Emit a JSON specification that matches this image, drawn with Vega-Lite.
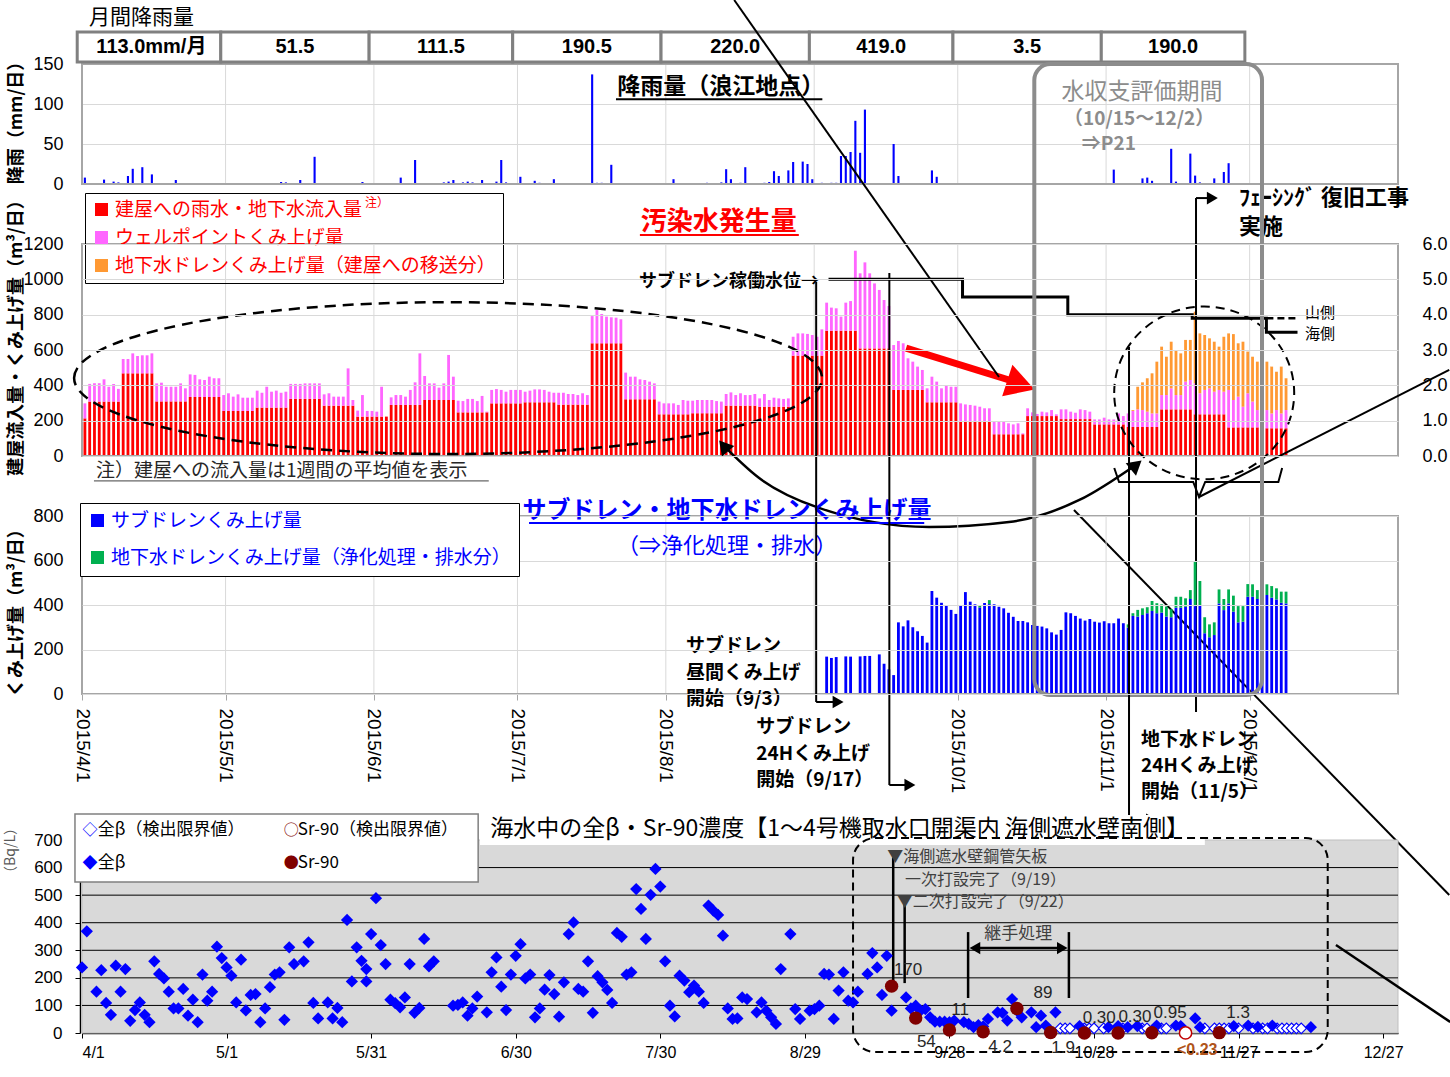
{
"$schema":"https://vega.github.io/schema/vega-lite/v6.json",
"width":1316,"height":1077,
"autosize":{"type":"none"},
"padding":{"left":82,"top":0,"right":52,"bottom":0},
"background":"white",
"config":{"view":{"stroke":null},"text":{"font":"Noto Sans CJK JP"},"axis":{"labelFont":"Liberation Sans","titleFont":"Noto Sans CJK JP"},"legend":{"labelFont":"Noto Sans CJK JP"}},
"datasets":{
"rain":[{"d":"2015-04-01","v":8},{"d":"2015-04-05","v":5.5},{"d":"2015-04-07","v":3},{"d":"2015-04-08","v":2},{"d":"2015-04-10","v":10},{"d":"2015-04-11","v":19},{"d":"2015-04-13","v":21},{"d":"2015-04-15","v":12},{"d":"2015-04-20","v":5},{"d":"2015-04-21","v":1},{"d":"2015-05-12","v":2.5},{"d":"2015-05-13","v":2},{"d":"2015-05-16","v":5},{"d":"2015-05-19","v":34},{"d":"2015-05-29","v":2.5},{"d":"2015-06-06","v":8},{"d":"2015-06-09","v":30},{"d":"2015-06-15","v":2},{"d":"2015-06-16","v":3},{"d":"2015-06-17","v":5},{"d":"2015-06-19","v":2},{"d":"2015-06-20","v":3},{"d":"2015-06-21","v":2},{"d":"2015-06-23","v":5},{"d":"2015-06-26","v":3},{"d":"2015-06-27","v":30},{"d":"2015-06-28","v":2},{"d":"2015-07-01","v":9},{"d":"2015-07-04","v":4},{"d":"2015-07-05","v":1.5},{"d":"2015-07-08","v":6},{"d":"2015-07-16","v":137},{"d":"2015-07-17","v":1.5},{"d":"2015-07-18","v":1.5},{"d":"2015-07-20","v":24},{"d":"2015-07-24","v":1},{"d":"2015-08-02","v":6},{"d":"2015-08-09","v":1.5},{"d":"2015-08-12","v":2},{"d":"2015-08-13","v":18.5},{"d":"2015-08-14","v":6},{"d":"2015-08-16","v":1.5},{"d":"2015-08-17","v":21},{"d":"2015-08-21","v":1.5},{"d":"2015-08-22","v":2.5},{"d":"2015-08-23","v":16},{"d":"2015-08-24","v":10},{"d":"2015-08-26","v":17},{"d":"2015-08-27","v":27.5},{"d":"2015-08-29","v":28},{"d":"2015-08-30","v":25},{"d":"2015-08-31","v":6},{"d":"2015-09-02","v":1.5},{"d":"2015-09-04","v":1.5},{"d":"2015-09-05","v":1.5},{"d":"2015-09-06","v":35},{"d":"2015-09-07","v":35},{"d":"2015-09-08","v":40},{"d":"2015-09-09","v":79},{"d":"2015-09-10","v":39},{"d":"2015-09-11","v":93},{"d":"2015-09-17","v":50},{"d":"2015-09-18","v":10},{"d":"2015-09-25","v":17},{"d":"2015-09-26","v":9},{"d":"2015-10-01","v":1},{"d":"2015-10-11","v":0.5},{"d":"2015-11-02","v":18},{"d":"2015-11-07","v":1},{"d":"2015-11-08","v":7},{"d":"2015-11-09","v":8},{"d":"2015-11-10","v":4},{"d":"2015-11-14","v":44},{"d":"2015-11-15","v":3},{"d":"2015-11-18","v":38},{"d":"2015-11-19","v":10.5},{"d":"2015-11-20","v":2},{"d":"2015-11-23","v":7},{"d":"2015-11-25","v":15},{"d":"2015-11-26","v":26},{"d":"2015-12-03","v":1},{"d":"2015-12-05","v":0.5}],
"water":[{"d":"2015-04-01","inflow":213,"pumped":85},{"d":"2015-04-02","inflow":308,"pumped":100},{"d":"2015-04-03","inflow":308,"pumped":104},{"d":"2015-04-04","inflow":308,"pumped":104},{"d":"2015-04-05","inflow":308,"pumped":126},{"d":"2015-04-06","inflow":308,"pumped":84},{"d":"2015-04-07","inflow":308,"pumped":100},{"d":"2015-04-08","inflow":308,"pumped":72},{"d":"2015-04-09","inflow":468,"pumped":81},{"d":"2015-04-10","inflow":468,"pumped":81},{"d":"2015-04-11","inflow":468,"pumped":113},{"d":"2015-04-12","inflow":468,"pumped":98},{"d":"2015-04-13","inflow":468,"pumped":102},{"d":"2015-04-14","inflow":468,"pumped":102},{"d":"2015-04-15","inflow":468,"pumped":113},{"d":"2015-04-16","inflow":309,"pumped":102},{"d":"2015-04-17","inflow":309,"pumped":106},{"d":"2015-04-18","inflow":309,"pumped":83},{"d":"2015-04-19","inflow":309,"pumped":83},{"d":"2015-04-20","inflow":309,"pumped":83},{"d":"2015-04-21","inflow":309,"pumped":102},{"d":"2015-04-22","inflow":309,"pumped":74},{"d":"2015-04-23","inflow":334,"pumped":128},{"d":"2015-04-24","inflow":334,"pumped":125},{"d":"2015-04-25","inflow":334,"pumped":100},{"d":"2015-04-26","inflow":334,"pumped":96},{"d":"2015-04-27","inflow":334,"pumped":115},{"d":"2015-04-28","inflow":334,"pumped":106},{"d":"2015-04-29","inflow":334,"pumped":106},{"d":"2015-04-30","inflow":255,"pumped":90},{"d":"2015-05-01","inflow":255,"pumped":100},{"d":"2015-05-02","inflow":255,"pumped":81},{"d":"2015-05-03","inflow":255,"pumped":94},{"d":"2015-05-04","inflow":255,"pumped":75},{"d":"2015-05-05","inflow":255,"pumped":75},{"d":"2015-05-06","inflow":255,"pumped":75},{"d":"2015-05-07","inflow":274,"pumped":96},{"d":"2015-05-08","inflow":274,"pumped":84},{"d":"2015-05-09","inflow":274,"pumped":118},{"d":"2015-05-10","inflow":274,"pumped":90},{"d":"2015-05-11","inflow":274,"pumped":96},{"d":"2015-05-12","inflow":274,"pumped":84},{"d":"2015-05-13","inflow":274,"pumped":90},{"d":"2015-05-14","inflow":323,"pumped":85},{"d":"2015-05-15","inflow":323,"pumped":85},{"d":"2015-05-16","inflow":323,"pumped":85},{"d":"2015-05-17","inflow":323,"pumped":88},{"d":"2015-05-18","inflow":323,"pumped":88},{"d":"2015-05-19","inflow":323,"pumped":88},{"d":"2015-05-20","inflow":323,"pumped":88},{"d":"2015-05-21","inflow":285,"pumped":64},{"d":"2015-05-22","inflow":285,"pumped":70},{"d":"2015-05-23","inflow":285,"pumped":51},{"d":"2015-05-24","inflow":285,"pumped":51},{"d":"2015-05-25","inflow":285,"pumped":51},{"d":"2015-05-26","inflow":285,"pumped":211},{"d":"2015-05-27","inflow":285,"pumped":32},{"d":"2015-05-28","inflow":223,"pumped":34},{"d":"2015-05-29","inflow":223,"pumped":122},{"d":"2015-05-30","inflow":223,"pumped":32},{"d":"2015-05-31","inflow":223,"pumped":32},{"d":"2015-06-01","inflow":223,"pumped":28},{"d":"2015-06-02","inflow":223,"pumped":169},{"d":"2015-06-03","inflow":223},{"d":"2015-06-04","inflow":289,"pumped":43},{"d":"2015-06-05","inflow":289,"pumped":56},{"d":"2015-06-06","inflow":289,"pumped":56},{"d":"2015-06-07","inflow":289,"pumped":47},{"d":"2015-06-08","inflow":289,"pumped":85},{"d":"2015-06-09","inflow":289,"pumped":128},{"d":"2015-06-10","inflow":289,"pumped":292},{"d":"2015-06-11","inflow":317,"pumped":136},{"d":"2015-06-12","inflow":317,"pumped":94},{"d":"2015-06-13","inflow":317,"pumped":94},{"d":"2015-06-14","inflow":317,"pumped":70},{"d":"2015-06-15","inflow":317,"pumped":94},{"d":"2015-06-16","inflow":317,"pumped":255},{"d":"2015-06-17","inflow":317,"pumped":132},{"d":"2015-06-18","inflow":247,"pumped":66},{"d":"2015-06-19","inflow":247,"pumped":64},{"d":"2015-06-20","inflow":247,"pumped":76},{"d":"2015-06-21","inflow":247,"pumped":76},{"d":"2015-06-22","inflow":247,"pumped":64},{"d":"2015-06-23","inflow":247,"pumped":93},{"d":"2015-06-24","inflow":247,"pumped":4},{"d":"2015-06-25","inflow":298,"pumped":76},{"d":"2015-06-26","inflow":298,"pumped":81},{"d":"2015-06-27","inflow":298,"pumped":76},{"d":"2015-06-28","inflow":298,"pumped":66},{"d":"2015-06-29","inflow":298,"pumped":76},{"d":"2015-06-30","inflow":298,"pumped":76},{"d":"2015-07-01","inflow":298,"pumped":76},{"d":"2015-07-02","inflow":304,"pumped":60},{"d":"2015-07-03","inflow":304,"pumped":66},{"d":"2015-07-04","inflow":304,"pumped":73},{"d":"2015-07-05","inflow":304,"pumped":73},{"d":"2015-07-06","inflow":304,"pumped":70},{"d":"2015-07-07","inflow":304,"pumped":60},{"d":"2015-07-08","inflow":304,"pumped":54},{"d":"2015-07-09","inflow":291,"pumped":67},{"d":"2015-07-10","inflow":291,"pumped":67},{"d":"2015-07-11","inflow":291,"pumped":60},{"d":"2015-07-12","inflow":291,"pumped":60},{"d":"2015-07-13","inflow":291,"pumped":54},{"d":"2015-07-14","inflow":291,"pumped":64},{"d":"2015-07-15","inflow":291,"pumped":54},{"d":"2015-07-16","inflow":638,"pumped":154},{"d":"2015-07-17","inflow":638,"pumped":188},{"d":"2015-07-18","inflow":638,"pumped":166},{"d":"2015-07-19","inflow":638,"pumped":151},{"d":"2015-07-20","inflow":638,"pumped":147},{"d":"2015-07-21","inflow":638,"pumped":145},{"d":"2015-07-22","inflow":638,"pumped":136},{"d":"2015-07-23","inflow":321,"pumped":151},{"d":"2015-07-24","inflow":321,"pumped":128},{"d":"2015-07-25","inflow":321,"pumped":128},{"d":"2015-07-26","inflow":321,"pumped":113},{"d":"2015-07-27","inflow":321,"pumped":109},{"d":"2015-07-28","inflow":321,"pumped":100},{"d":"2015-07-29","inflow":321,"pumped":90},{"d":"2015-07-30","inflow":236,"pumped":72},{"d":"2015-07-31","inflow":236,"pumped":62},{"d":"2015-08-01","inflow":236,"pumped":62},{"d":"2015-08-02","inflow":236,"pumped":62},{"d":"2015-08-03","inflow":236,"pumped":53},{"d":"2015-08-04","inflow":236,"pumped":81},{"d":"2015-08-05","inflow":236,"pumped":77},{"d":"2015-08-06","inflow":242,"pumped":71},{"d":"2015-08-07","inflow":242,"pumped":75},{"d":"2015-08-08","inflow":242,"pumped":75},{"d":"2015-08-09","inflow":242,"pumped":75},{"d":"2015-08-10","inflow":242,"pumped":75},{"d":"2015-08-11","inflow":242,"pumped":69},{"d":"2015-08-12","inflow":242,"pumped":66},{"d":"2015-08-13","inflow":285,"pumped":66},{"d":"2015-08-14","inflow":285,"pumped":75},{"d":"2015-08-15","inflow":285,"pumped":60},{"d":"2015-08-16","inflow":285,"pumped":70},{"d":"2015-08-17","inflow":285,"pumped":60},{"d":"2015-08-18","inflow":285,"pumped":60},{"d":"2015-08-19","inflow":285,"pumped":66},{"d":"2015-08-20","inflow":279,"pumped":47},{"d":"2015-08-21","inflow":279,"pumped":72},{"d":"2015-08-22","inflow":279,"pumped":38},{"d":"2015-08-23","inflow":279,"pumped":51},{"d":"2015-08-24","inflow":279,"pumped":47},{"d":"2015-08-25","inflow":279,"pumped":44},{"d":"2015-08-26","inflow":279,"pumped":47},{"d":"2015-08-27","inflow":568,"pumped":107},{"d":"2015-08-28","inflow":568,"pumped":126},{"d":"2015-08-29","inflow":568,"pumped":126},{"d":"2015-08-30","inflow":568,"pumped":123},{"d":"2015-08-31","inflow":568,"pumped":117},{"d":"2015-09-01","inflow":568,"pumped":107},{"d":"2015-09-02","inflow":568,"pumped":149},{"d":"2015-09-03","inflow":709,"pumped":159},{"d":"2015-09-04","inflow":709,"pumped":131},{"d":"2015-09-05","inflow":709,"pumped":127},{"d":"2015-09-06","inflow":709,"pumped":80},{"d":"2015-09-07","inflow":709,"pumped":159},{"d":"2015-09-08","inflow":709,"pumped":168},{"d":"2015-09-09","inflow":709,"pumped":453},{"d":"2015-09-10","inflow":609,"pumped":425},{"d":"2015-09-11","inflow":609,"pumped":487},{"d":"2015-09-12","inflow":609,"pumped":425},{"d":"2015-09-13","inflow":609,"pumped":368},{"d":"2015-09-14","inflow":609,"pumped":331},{"d":"2015-09-15","inflow":609,"pumped":274},{"d":"2015-09-16","inflow":609,"pumped":240},{"d":"2015-09-17","inflow":374,"pumped":254},{"d":"2015-09-18","inflow":374,"pumped":277},{"d":"2015-09-19","inflow":374,"pumped":264},{"d":"2015-09-20","inflow":374,"pumped":179},{"d":"2015-09-21","inflow":374,"pumped":160},{"d":"2015-09-22","inflow":374,"pumped":132},{"d":"2015-09-23","inflow":374,"pumped":113},{"d":"2015-09-24","inflow":304,"pumped":79},{"d":"2015-09-25","inflow":304,"pumped":145},{"d":"2015-09-26","inflow":304,"pumped":117},{"d":"2015-09-27","inflow":304,"pumped":79},{"d":"2015-09-28","inflow":304,"pumped":98},{"d":"2015-09-29","inflow":304,"pumped":88},{"d":"2015-09-30","inflow":304,"pumped":88},{"d":"2015-10-01","inflow":194,"pumped":104},{"d":"2015-10-02","inflow":194,"pumped":98},{"d":"2015-10-03","inflow":194,"pumped":95},{"d":"2015-10-04","inflow":194,"pumped":91},{"d":"2015-10-05","inflow":194,"pumped":85},{"d":"2015-10-06","inflow":194,"pumped":76},{"d":"2015-10-07","inflow":194,"pumped":76},{"d":"2015-10-08","inflow":123,"pumped":71},{"d":"2015-10-09","inflow":123,"pumped":71},{"d":"2015-10-10","inflow":123,"pumped":71},{"d":"2015-10-11","inflow":123,"pumped":62},{"d":"2015-10-12","inflow":123,"pumped":56},{"d":"2015-10-13","inflow":123,"pumped":62},{"d":"2015-10-14","inflow":123,"pumped":5},{"d":"2015-10-15","inflow":226,"pumped":44},{"d":"2015-10-16","inflow":226,"pumped":21},{"d":"2015-10-17","inflow":226,"pumped":12},{"d":"2015-10-18","inflow":226,"pumped":25},{"d":"2015-10-19","inflow":226,"pumped":21},{"d":"2015-10-20","inflow":226,"pumped":34},{"d":"2015-10-21","inflow":226,"pumped":10},{"d":"2015-10-22","inflow":209,"pumped":55},{"d":"2015-10-23","inflow":209,"pumped":55},{"d":"2015-10-24","inflow":209,"pumped":42},{"d":"2015-10-25","inflow":209,"pumped":36},{"d":"2015-10-26","inflow":209,"pumped":55},{"d":"2015-10-27","inflow":209,"pumped":51},{"d":"2015-10-28","inflow":209,"pumped":42},{"d":"2015-10-29","inflow":179,"pumped":28},{"d":"2015-10-30","inflow":179,"pumped":28},{"d":"2015-10-31","inflow":179,"pumped":38},{"d":"2015-11-01","inflow":179,"pumped":28},{"d":"2015-11-02","inflow":179,"pumped":28},{"d":"2015-11-03","inflow":179,"pumped":62},{"d":"2015-11-04","inflow":179,"pumped":47},{"d":"2015-11-05","inflow":164,"pumped":77},{"d":"2015-11-06","inflow":164,"pumped":91,"transfer":5},{"d":"2015-11-07","inflow":164,"pumped":100,"transfer":128},{"d":"2015-11-08","inflow":164,"pumped":96,"transfer":157},{"d":"2015-11-09","inflow":164,"pumped":87,"transfer":189},{"d":"2015-11-10","inflow":164,"pumped":77,"transfer":227},{"d":"2015-11-11","inflow":164,"pumped":77,"transfer":293},{"d":"2015-11-12","inflow":264,"pumped":81,"transfer":274},{"d":"2015-11-13","inflow":264,"pumped":81,"transfer":217},{"d":"2015-11-14","inflow":264,"pumped":119,"transfer":264},{"d":"2015-11-15","inflow":264,"pumped":81,"transfer":255},{"d":"2015-11-16","inflow":264,"pumped":81,"transfer":236},{"d":"2015-11-17","inflow":264,"pumped":157,"transfer":236},{"d":"2015-11-18","inflow":264,"pumped":166,"transfer":227},{"d":"2015-11-19","inflow":236,"pumped":175,"transfer":406},{"d":"2015-11-20","inflow":236,"pumped":119,"transfer":339},{"d":"2015-11-21","inflow":236,"pumped":138,"transfer":311},{"d":"2015-11-22","inflow":236,"pumped":147,"transfer":283},{"d":"2015-11-23","inflow":236,"pumped":128,"transfer":283},{"d":"2015-11-24","inflow":236,"pumped":138,"transfer":245},{"d":"2015-11-25","inflow":236,"pumped":128,"transfer":311},{"d":"2015-11-26","inflow":162,"pumped":212,"transfer":320},{"d":"2015-11-27","inflow":162,"pumped":155,"transfer":373},{"d":"2015-11-28","inflow":162,"pumped":174,"transfer":302},{"d":"2015-11-29","inflow":162,"pumped":117,"transfer":368},{"d":"2015-11-30","inflow":162,"pumped":193,"transfer":236},{"d":"2015-12-01","inflow":162,"pumped":146,"transfer":254},{"d":"2015-12-02","inflow":162,"pumped":98,"transfer":274},{"d":"2015-12-03","inflow":157,"pumped":122,"transfer":264},{"d":"2015-12-04","inflow":157,"pumped":103,"transfer":274},{"d":"2015-12-05","inflow":157,"pumped":84,"transfer":265},{"d":"2015-12-06","inflow":157,"pumped":103,"transfer":217},{"d":"2015-12-07","inflow":157,"pumped":84,"transfer":265},{"d":"2015-12-08","inflow":157,"pumped":103,"transfer":180}],
"pump":[{"d":"2015-09-03","subdrain":168},{"d":"2015-09-04","subdrain":162},{"d":"2015-09-05","subdrain":166},{"d":"2015-09-07","subdrain":169},{"d":"2015-09-08","subdrain":168},{"d":"2015-09-10","subdrain":169},{"d":"2015-09-11","subdrain":171},{"d":"2015-09-12","subdrain":171},{"d":"2015-09-14","subdrain":178},{"d":"2015-09-15","subdrain":136},{"d":"2015-09-16","subdrain":111},{"d":"2015-09-17","subdrain":85},{"d":"2015-09-18","subdrain":322},{"d":"2015-09-19","subdrain":304},{"d":"2015-09-20","subdrain":331},{"d":"2015-09-21","subdrain":300},{"d":"2015-09-22","subdrain":282},{"d":"2015-09-23","subdrain":261},{"d":"2015-09-24","subdrain":231},{"d":"2015-09-25","subdrain":463},{"d":"2015-09-26","subdrain":433},{"d":"2015-09-27","subdrain":410},{"d":"2015-09-28","subdrain":396},{"d":"2015-09-29","subdrain":378},{"d":"2015-09-30","subdrain":360},{"d":"2015-10-01","subdrain":398},{"d":"2015-10-02","subdrain":458},{"d":"2015-10-03","subdrain":415},{"d":"2015-10-04","subdrain":403},{"d":"2015-10-05","subdrain":389,"treated":11},{"d":"2015-10-06","subdrain":409},{"d":"2015-10-07","subdrain":404,"treated":18},{"d":"2015-10-08","subdrain":403},{"d":"2015-10-09","subdrain":392},{"d":"2015-10-10","subdrain":385},{"d":"2015-10-11","subdrain":365},{"d":"2015-10-12","subdrain":347},{"d":"2015-10-13","subdrain":328},{"d":"2015-10-14","subdrain":328},{"d":"2015-10-15","subdrain":322},{"d":"2015-10-16","subdrain":310},{"d":"2015-10-17","subdrain":306},{"d":"2015-10-18","subdrain":303},{"d":"2015-10-19","subdrain":295},{"d":"2015-10-20","subdrain":277},{"d":"2015-10-21","subdrain":267},{"d":"2015-10-22","subdrain":288},{"d":"2015-10-23","subdrain":367},{"d":"2015-10-24","subdrain":363},{"d":"2015-10-25","subdrain":351},{"d":"2015-10-26","subdrain":339},{"d":"2015-10-27","subdrain":330},{"d":"2015-10-28","subdrain":337},{"d":"2015-10-29","subdrain":325},{"d":"2015-10-30","subdrain":321},{"d":"2015-10-31","subdrain":327},{"d":"2015-11-01","subdrain":318},{"d":"2015-11-02","subdrain":318},{"d":"2015-11-03","subdrain":339},{"d":"2015-11-04","subdrain":318},{"d":"2015-11-05","subdrain":298,"treated":15},{"d":"2015-11-06","subdrain":351,"treated":12},{"d":"2015-11-07","subdrain":348,"treated":30},{"d":"2015-11-08","subdrain":355,"treated":30},{"d":"2015-11-09","subdrain":363,"treated":27},{"d":"2015-11-10","subdrain":373,"treated":45},{"d":"2015-11-11","subdrain":363,"treated":45},{"d":"2015-11-12","subdrain":366,"treated":37},{"d":"2015-11-13","subdrain":348,"treated":45},{"d":"2015-11-14","subdrain":345,"treated":36},{"d":"2015-11-15","subdrain":388,"treated":49},{"d":"2015-11-16","subdrain":388,"treated":49},{"d":"2015-11-17","subdrain":392,"treated":38},{"d":"2015-11-18","subdrain":427,"treated":40},{"d":"2015-11-19","subdrain":395,"treated":203},{"d":"2015-11-20","subdrain":398,"treated":110},{"d":"2015-11-21","subdrain":273,"treated":72},{"d":"2015-11-22","subdrain":255,"treated":58},{"d":"2015-11-23","subdrain":265,"treated":57},{"d":"2015-11-24","subdrain":407,"treated":63},{"d":"2015-11-25","subdrain":377,"treated":50},{"d":"2015-11-26","subdrain":407,"treated":63},{"d":"2015-11-27","subdrain":370,"treated":72},{"d":"2015-11-28","subdrain":322,"treated":73},{"d":"2015-11-29","subdrain":325,"treated":70},{"d":"2015-11-30","subdrain":437,"treated":57},{"d":"2015-12-01","subdrain":437,"treated":56},{"d":"2015-12-02","subdrain":427,"treated":40},{"d":"2015-12-03","subdrain":464,"treated":51},{"d":"2015-12-04","subdrain":445,"treated":48},{"d":"2015-12-05","subdrain":433,"treated":52},{"d":"2015-12-06","subdrain":425,"treated":50},{"d":"2015-12-07","subdrain":410,"treated":50},{"d":"2015-12-08","subdrain":407,"treated":53}],
"beta":[{"d":"2015-04-01","v":238},{"d":"2015-04-02","v":369},{"d":"2015-04-04","v":150},{"d":"2015-04-05","v":228},{"d":"2015-04-06","v":109},{"d":"2015-04-07","v":66},{"d":"2015-04-08","v":244},{"d":"2015-04-09","v":150},{"d":"2015-04-10","v":232},{"d":"2015-04-11","v":44},{"d":"2015-04-12","v":83},{"d":"2015-04-13","v":111},{"d":"2015-04-14","v":66},{"d":"2015-04-15","v":39},{"d":"2015-04-16","v":260},{"d":"2015-04-17","v":214},{"d":"2015-04-18","v":198},{"d":"2015-04-19","v":150},{"d":"2015-04-20","v":89},{"d":"2015-04-21","v":89},{"d":"2015-04-22","v":160},{"d":"2015-04-23","v":63},{"d":"2015-04-24","v":121},{"d":"2015-04-25","v":39},{"d":"2015-04-26","v":212},{"d":"2015-04-27","v":117},{"d":"2015-04-28","v":150},{"d":"2015-04-29","v":313},{"d":"2015-04-30","v":272},{"d":"2015-05-01","v":238},{"d":"2015-05-02","v":208},{"d":"2015-05-03","v":111},{"d":"2015-05-04","v":266},{"d":"2015-05-05","v":82},{"d":"2015-05-06","v":138},{"d":"2015-05-07","v":141},{"d":"2015-05-08","v":39},{"d":"2015-05-09","v":89},{"d":"2015-05-10","v":166},{"d":"2015-05-11","v":212},{"d":"2015-05-12","v":220},{"d":"2015-05-13","v":48},{"d":"2015-05-14","v":311},{"d":"2015-05-15","v":250},{"d":"2015-05-17","v":260},{"d":"2015-05-18","v":329},{"d":"2015-05-19","v":109},{"d":"2015-05-20","v":53},{"d":"2015-05-22","v":111},{"d":"2015-05-23","v":53},{"d":"2015-05-24","v":91},{"d":"2015-05-25","v":39},{"d":"2015-05-26","v":410},{"d":"2015-05-27","v":187},{"d":"2015-05-28","v":311},{"d":"2015-05-29","v":262},{"d":"2015-05-30","v":232},{"d":"2015-05-30","v":187},{"d":"2015-05-31","v":359},{"d":"2015-06-01","v":489},{"d":"2015-06-02","v":319},{"d":"2015-06-03","v":250},{"d":"2015-06-04","v":121},{"d":"2015-06-05","v":108},{"d":"2015-06-06","v":93},{"d":"2015-06-07","v":129},{"d":"2015-06-08","v":250},{"d":"2015-06-09","v":73},{"d":"2015-06-10","v":91},{"d":"2015-06-11","v":341},{"d":"2015-06-12","v":242},{"d":"2015-06-13","v":260},{"d":"2015-06-17","v":99},{"d":"2015-06-18","v":102},{"d":"2015-06-19","v":111},{"d":"2015-06-20","v":63},{"d":"2015-06-21","v":89},{"d":"2015-06-22","v":132},{"d":"2015-06-24","v":75},{"d":"2015-06-25","v":220},{"d":"2015-06-26","v":274},{"d":"2015-06-27","v":168},{"d":"2015-06-28","v":83},{"d":"2015-06-29","v":212},{"d":"2015-06-30","v":280},{"d":"2015-07-01","v":322},{"d":"2015-07-02","v":198},{"d":"2015-07-03","v":212},{"d":"2015-07-04","v":57},{"d":"2015-07-05","v":89},{"d":"2015-07-06","v":157},{"d":"2015-07-07","v":210},{"d":"2015-07-08","v":141},{"d":"2015-07-09","v":59},{"d":"2015-07-10","v":184},{"d":"2015-07-11","v":359},{"d":"2015-07-12","v":401},{"d":"2015-07-13","v":160},{"d":"2015-07-14","v":150},{"d":"2015-07-15","v":260},{"d":"2015-07-16","v":73},{"d":"2015-07-17","v":206},{"d":"2015-07-18","v":184},{"d":"2015-07-19","v":156},{"d":"2015-07-20","v":109},{"d":"2015-07-21","v":363},{"d":"2015-07-22","v":349},{"d":"2015-07-23","v":212},{"d":"2015-07-24","v":220},{"d":"2015-07-25","v":522},{"d":"2015-07-26","v":450},{"d":"2015-07-27","v":341},{"d":"2015-07-28","v":501},{"d":"2015-07-29","v":595},{"d":"2015-07-30","v":531},{"d":"2015-07-31","v":260},{"d":"2015-08-01","v":99},{"d":"2015-08-02","v":60},{"d":"2015-08-03","v":208},{"d":"2015-08-04","v":190},{"d":"2015-08-05","v":148},{"d":"2015-08-06","v":172},{"d":"2015-08-07","v":150},{"d":"2015-08-08","v":109},{"d":"2015-08-09","v":462},{"d":"2015-08-10","v":444},{"d":"2015-08-11","v":428},{"d":"2015-08-12","v":353},{"d":"2015-08-13","v":89},{"d":"2015-08-14","v":51},{"d":"2015-08-15","v":53},{"d":"2015-08-16","v":129},{"d":"2015-08-17","v":123},{"d":"2015-08-19","v":75},{"d":"2015-08-20","v":111},{"d":"2015-08-21","v":81},{"d":"2015-08-22","v":57},{"d":"2015-08-23","v":33},{"d":"2015-08-24","v":232},{"d":"2015-08-26","v":359},{"d":"2015-08-27","v":87},{"d":"2015-08-28","v":51},{"d":"2015-08-30","v":81},{"d":"2015-08-31","v":87},{"d":"2015-09-01","v":99},{"d":"2015-09-02","v":214},{"d":"2015-09-03","v":212},{"d":"2015-09-04","v":51},{"d":"2015-09-05","v":154},{"d":"2015-09-06","v":220},{"d":"2015-09-07","v":117},{"d":"2015-09-08","v":111},{"d":"2015-09-09","v":150},{"d":"2015-09-11","v":214},{"d":"2015-09-12","v":290},{"d":"2015-09-13","v":238},{"d":"2015-09-14","v":138},{"d":"2015-09-15","v":280},{"d":"2015-09-16","v":81},{"d":"2015-09-19","v":129},{"d":"2015-09-20","v":89},{"d":"2015-09-21","v":99},{"d":"2015-09-22","v":81},{"d":"2015-09-23","v":87},{"d":"2015-09-24","v":57},{"d":"2015-09-25","v":41},{"d":"2015-09-26","v":41},{"d":"2015-09-27","v":41},{"d":"2015-09-28","v":39},{"d":"2015-09-29","v":45},{"d":"2015-10-01","v":39},{"d":"2015-10-02","v":33},{"d":"2015-10-03","v":21},{"d":"2015-10-04","v":29},{"d":"2015-10-05","v":24},{"d":"2015-10-06","v":51},{"d":"2015-10-08","v":75},{"d":"2015-10-09","v":73},{"d":"2015-10-10","v":45},{"d":"2015-10-11","v":123},{"d":"2015-10-12","v":81},{"d":"2015-10-13","v":57},{"d":"2015-10-15","v":75},{"d":"2015-10-16","v":21},{"d":"2015-10-17","v":63},{"d":"2015-10-18","v":27},{"d":"2015-10-20","v":75},{"d":"2015-10-25","v":25},{"d":"2015-10-31","v":21},{"d":"2015-11-02","v":25},{"d":"2015-11-04","v":21},{"d":"2015-11-06","v":25},{"d":"2015-11-10","v":27},{"d":"2015-11-14","v":27},{"d":"2015-11-15","v":25},{"d":"2015-11-18","v":53},{"d":"2015-11-19","v":21},{"d":"2015-11-26","v":25},{"d":"2015-11-29","v":27},{"d":"2015-12-01","v":22},{"d":"2015-12-04","v":27},{"d":"2015-12-12","v":21}],
"betaDL":[{"d":"2015-10-21","v":17},{"d":"2015-10-22","v":17},{"d":"2015-10-23","v":17},{"d":"2015-10-26","v":17},{"d":"2015-10-27","v":17},{"d":"2015-10-28","v":17},{"d":"2015-10-30","v":17},{"d":"2015-11-03","v":17},{"d":"2015-11-07","v":17},{"d":"2015-11-08","v":17},{"d":"2015-11-11","v":17},{"d":"2015-11-12","v":17},{"d":"2015-11-20","v":17},{"d":"2015-11-22","v":17},{"d":"2015-11-23","v":17},{"d":"2015-11-24","v":17},{"d":"2015-11-25","v":17},{"d":"2015-11-27","v":17},{"d":"2015-11-30","v":17},{"d":"2015-12-02","v":17},{"d":"2015-12-03","v":17},{"d":"2015-12-05","v":17},{"d":"2015-12-06","v":17},{"d":"2015-12-07","v":17},{"d":"2015-12-08","v":17},{"d":"2015-12-09","v":17},{"d":"2015-12-10","v":17}],
"sr":[{"d":"2015-09-16","v":170},{"d":"2015-09-21","v":54},{"d":"2015-09-28","v":11},{"d":"2015-10-05","v":4.2},{"d":"2015-10-12","v":89},{"d":"2015-10-19","v":1.9},{"d":"2015-10-26","v":0.3},{"d":"2015-11-02","v":0.3},{"d":"2015-11-09","v":0.95},{"d":"2015-11-23","v":1.3}],
"srDL":[{"d":"2015-11-16","v":0.23}]
},
"resolve":{"scale":{"x":"independent","y":"independent","color":"independent"}},
"layer":[
{
"encoding":{
"x":{"field":"d","type":"temporal","scale":{"type":"utc","domain":[{"year":2015,"month":4,"date":1,"utc":true},{"year":2016,"month":1,"date":1,"utc":true}],"nice":false},"axis":null},
"y":{"field":"v","type":"quantitative","scale":{"domain":[0,150],"range":[184,64],"nice":false},"axis":{"orient":"left","values":[0,50,100,150],"grid":true,"gridColor":"#d9d9d9","domain":false,"ticks":false,"labelPadding":19,"labelFontSize":18,"labelColor":"black","title":"降雨（mm/日）","titleFontSize":18,"titleFontWeight":"bold","titleColor":"black","titleX":-66,"titleY":118,"titleBaseline":"middle","titleAngle":-90}}},
"layer":[
{"data":{"values":[{"d":"2015-05-01","v":0,"v2":150},{"d":"2015-06-01","v":0,"v2":150},{"d":"2015-07-01","v":0,"v2":150},{"d":"2015-08-01","v":0,"v2":150},{"d":"2015-09-01","v":0,"v2":150},{"d":"2015-10-01","v":0,"v2":150},{"d":"2015-11-01","v":0,"v2":150},{"d":"2015-12-01","v":0,"v2":150}]},"mark":{"type":"rule","color":"#d9d9d9","strokeWidth":1},"encoding":{"y2":{"field":"v2"}}},
{"data":{"name":"rain"},"mark":{"type":"bar","color":"#0000ff","width":{"band":0.65}},"encoding":{"x":{"field":"d","timeUnit":"utcyearmonthdate","type":"temporal","scale":{"type":"utc","domain":[{"year":2015,"month":4,"date":1,"utc":true},{"year":2016,"month":1,"date":1,"utc":true}],"nice":false},"axis":null}}},
{"data":{"values":[{"d":"2015-04-01","d2":"2016-01-01","v":0,"v2":150}]},"mark":{"type":"rect","fill":"white","fillOpacity":0,"stroke":"#a6a6a6","strokeWidth":2},"encoding":{"x2":{"field":"d2"},"y2":{"field":"v2"}}},
{"data":{"values":[{"d":"2015-03-31","d2":"2015-04-30","v":152.5,"v2":190},{"d":"2015-04-30","d2":"2015-05-31","v":152.5,"v2":190},{"d":"2015-05-31","d2":"2015-06-30","v":152.5,"v2":190},{"d":"2015-06-30","d2":"2015-07-31","v":152.5,"v2":190},{"d":"2015-07-31","d2":"2015-08-31","v":152.5,"v2":190},{"d":"2015-08-31","d2":"2015-09-30","v":152.5,"v2":190},{"d":"2015-09-30","d2":"2015-10-31","v":152.5,"v2":190},{"d":"2015-10-31","d2":"2015-11-30","v":152.5,"v2":190}]},"mark":{"type":"rect","fill":"white","stroke":"#808080","strokeWidth":3},"encoding":{"x2":{"field":"d2"},"y2":{"field":"v2"}}},
{"data":{"values":[{"d":"2015-04-15T12:00:00Z","v":171,"t":"113.0mm/月"},{"d":"2015-05-15T12:00:00Z","v":171,"t":"51.5"},{"d":"2015-06-15T00:00:00Z","v":171,"t":"111.5"},{"d":"2015-07-15T12:00:00Z","v":171,"t":"190.5"},{"d":"2015-08-15T12:00:00Z","v":171,"t":"220.0"},{"d":"2015-09-15T00:00:00Z","v":171,"t":"419.0"},{"d":"2015-10-15T12:00:00Z","v":171,"t":"3.5"},{"d":"2015-11-15T00:00:00Z","v":171,"t":"190.0"}]},"mark":{"type":"text","font":"Liberation Sans, Noto Sans CJK JP","fontSize":20,"fontWeight":"bold","align":"center","baseline":"middle","color":"black"},"encoding":{"text":{"field":"t"}}},
{"data":{"values":[{"d":"2015-04-02T11:00:00Z","v":207.5,"t":"月間降雨量"}]},"mark":{"type":"text","fontSize":21,"align":"left","baseline":"middle","color":"black"},"encoding":{"text":{"field":"t"}}},
{"data":{"values":[{"d":"2015-08-12T12:00:00Z","v":121,"t":"降雨量（浪江地点）"}]},"mark":{"type":"text","fontSize":23,"fontWeight":"bold","align":"center","baseline":"middle","color":"black"},"encoding":{"text":{"field":"t"}}},
{"data":{"values":[{"d":"2015-07-21T14:00:00Z","d2":"2015-09-02T17:00:00Z","v":106,"v2":106}]},"mark":{"type":"rule","color":"black","strokeWidth":2},"encoding":{"x2":{"field":"d2"},"y2":{"field":"v2"}}},
{"data":{"values":[{"d":"2015-11-08T12:00:00Z","v":115,"t":"水収支評価期間"}]},"mark":{"type":"text","fontSize":23,"align":"center","baseline":"middle","color":"#8c8c8c"},"encoding":{"text":{"field":"t"}}},
{"data":{"values":[{"d":"2015-11-07T22:00:00Z","v":81,"t":"（10/15～12/2）"},{"d":"2015-11-01T14:00:00Z","v":50,"t":"⇒P21"}]},"mark":{"type":"text","fontSize":19,"fontWeight":"bold","align":"center","baseline":"middle","color":"#8c8c8c"},"encoding":{"text":{"field":"t"}}}
]
},
{
"encoding":{
"x":{"field":"d","type":"temporal","scale":{"type":"utc","domain":[{"year":2015,"month":4,"date":1,"utc":true},{"year":2016,"month":1,"date":1,"utc":true}],"nice":false},"axis":null},
"y":{"field":"v","type":"quantitative","scale":{"domain":[0,1200],"range":[456,244],"nice":false},"axis":{"orient":"left","values":[0,200,400,600,800,1000,1200],"format":"d","grid":true,"gridColor":"#d9d9d9","zindex":1,"domain":false,"ticks":false,"labelPadding":19,"labelFontSize":18,"labelColor":"black","title":"建屋流入量・くみ上げ量（m³/日）","titleFontSize":18,"titleFontWeight":"bold","titleColor":"black","titleX":-66,"titleY":333,"titleBaseline":"middle","titleAngle":-90}}},
"layer":[
{"data":{"values":[{"d":"2015-05-01","v":0,"v2":1200},{"d":"2015-06-01","v":0,"v2":1200},{"d":"2015-07-01","v":0,"v2":1200},{"d":"2015-08-01","v":0,"v2":1200},{"d":"2015-09-01","v":0,"v2":1200},{"d":"2015-10-01","v":0,"v2":1200},{"d":"2015-11-01","v":0,"v2":1200},{"d":"2015-12-01","v":0,"v2":1200}]},"mark":{"type":"rule","color":"#d9d9d9","strokeWidth":1},"encoding":{"y2":{"field":"v2"}}},
{"data":{"name":"water"},"transform":[{"fold":["inflow","pumped","transfer"],"as":["key","v"]},{"filter":"datum.v > 0"}],"mark":{"type":"bar","width":{"band":0.8}},"encoding":{"x":{"field":"d","timeUnit":"utcyearmonthdate","type":"temporal","scale":{"type":"utc","domain":[{"year":2015,"month":4,"date":1,"utc":true},{"year":2016,"month":1,"date":1,"utc":true}],"nice":false},"axis":null},"color":{"field":"key","type":"nominal","scale":{"domain":["inflow","pumped","transfer"],"range":["#ff0000","#ff66ff","#ff9933"]},"legend":{"orient":"none","legendX":3,"legendY":193,"title":null,"direction":"vertical","symbolType":"square","symbolSize":170,"symbolStrokeWidth":0,"labelFontSize":19,"labelColor":"#ff0000","labelLimit":600,"padding":7,"rowPadding":8,"strokeColor":"black","labelExpr":"datum.label == 'inflow' ? '建屋への雨水・地下水流入量' : datum.label == 'pumped' ? 'ウェルポイントくみ上げ量' : '地下水ドレンくみ上げ量（建屋への移送分）'"}},"order":{"field":"key","sort":"ascending"}}},
{"data":{"values":[{"d":"2015-04-01","d2":"2016-01-01","v":0,"v2":1200}]},"mark":{"type":"rect","fill":"white","fillOpacity":0,"stroke":"#a6a6a6","strokeWidth":2},"encoding":{"x2":{"field":"d2"},"y2":{"field":"v2"}}},
{"data":{"values":[{"d":"2015-06-16T12:00:00Z","v":441}]},"mark":{"type":"point","shape":"M -1 0 A 1 0.203 0 0 1 1 0 A 1 0.203 0 0 1 -1 0 Z","size":559504,"filled":false,"stroke":"black","strokeWidth":2.5,"strokeDash":[11,7],"opacity":1}},
{"data":{"values":[{"d":"2015-11-21T12:00:00Z","v":357}]},"mark":{"type":"point","shape":"M -1 0 A 1 0.96 0 0 1 1 0 A 1 0.96 0 0 1 -1 0 Z","size":32400,"filled":false,"stroke":"black","strokeWidth":2,"strokeDash":[9,6],"opacity":1}},
{"data":{"values":[{"d":"2015-09-20T05:00:00Z","d2":"2015-10-13T02:00:00Z","v":611,"v2":419}]},"mark":{"type":"rule","color":"#ff0000","strokeWidth":7},"encoding":{"x2":{"field":"d2"},"y2":{"field":"v2"}}},
{"data":{"values":[{"d":"2015-10-14T05:00:00Z","v":402}]},"mark":{"type":"point","shape":"triangle-right","size":1100,"filled":true,"color":"#ff0000","angle":18,"opacity":1}},
{"data":{"values":[{"d":"2015-08-15T07:00:00Z","d2":"2015-10-09T15:00:00Z","v":2581,"v2":447},{"d":"2015-10-25T07:00:00Z","d2":"2016-01-11T17:00:00Z","v":-306,"v2":-2485},{"d":"2015-11-20T10:00:00Z","d2":"2016-01-11T17:00:00Z","v":-232,"v2":487},{"d":"2015-11-19T19:00:00Z","d2":"2015-11-19T19:00:00Z","v":1460,"v2":-1449},{"d":"2015-11-19T19:00:00Z","d2":"2015-11-23T00:00:00Z","v":1460,"v2":1460}]},"mark":{"type":"rule","color":"black","strokeWidth":2},"encoding":{"x2":{"field":"d2"},"y2":{"field":"v2"}}},
{"data":{"values":[{"d":"2015-08-12T12:00:00Z","v":74,"o":1},{"d":"2015-08-20T12:00:00Z","v":-125,"o":2},{"d":"2015-09-02T00:00:00Z","v":-294,"o":3},{"d":"2015-09-25T00:00:00Z","v":-402,"o":4},{"d":"2015-10-11T17:00:00Z","v":-374,"o":5},{"d":"2015-10-26T10:00:00Z","v":-249,"o":6},{"d":"2015-11-07T12:00:00Z","v":-45,"o":7}]},"mark":{"type":"line","color":"black","strokeWidth":2.5,"interpolate":"monotone"},"encoding":{"order":{"field":"o","type":"quantitative"}}},
{"data":{"values":[{"d":"2015-11-02T17:00:00Z","v":-68,"o":1},{"d":"2015-11-03T17:00:00Z","v":-147,"o":2},{"d":"2015-11-19T05:00:00Z","v":-147,"o":3},{"d":"2015-11-20T10:00:00Z","v":-232,"o":4},{"d":"2015-11-21T17:00:00Z","v":-147,"o":5},{"d":"2015-12-07T00:00:00Z","v":-147,"o":6},{"d":"2015-12-07T19:00:00Z","v":-68,"o":7}]},"mark":{"type":"line","color":"black","strokeWidth":2},"encoding":{"order":{"field":"o","type":"quantitative"}}},
{"data":{"values":[{"d":"2015-08-13T02:00:00Z","v":57}]},"mark":{"type":"point","shape":"triangle-up","size":260,"filled":true,"color":"black","angle":-40,"opacity":1}},
{"data":{"values":[{"d":"2015-11-07T07:00:00Z","v":-51}]},"mark":{"type":"point","shape":"triangle-up","size":260,"filled":true,"color":"black","angle":50,"opacity":1}},
{"data":{"values":[{"d":"2015-11-23T05:00:00Z","v":1460}]},"mark":{"type":"point","shape":"triangle-right","size":160,"filled":true,"color":"black","opacity":1}},
{"data":{"values":[{"d":"2015-05-30T03:00:00Z","v":1432,"t":"注）"}]},"mark":{"type":"text","fontSize":12,"align":"left","baseline":"middle","color":"#ff0000"},"encoding":{"text":{"field":"t"}}},
{"data":{"values":[{"d":"2015-08-12T02:00:00Z","v":1324,"t":"汚染水発生量"}]},"mark":{"type":"text","fontSize":26,"fontWeight":"bold","align":"center","baseline":"middle","color":"#ff0000"},"encoding":{"text":{"field":"t"}}},
{"data":{"values":[{"d":"2015-07-26T14:00:00Z","d2":"2015-08-28T19:00:00Z","v":1251,"v2":1251}]},"mark":{"type":"rule","color":"#ff0000","strokeWidth":2},"encoding":{"x2":{"field":"d2"},"y2":{"field":"v2"}}},
{"data":{"values":[{"d":"2015-04-03T22:00:00Z","v":-85,"t":"注）建屋への流入量は1週間の平均値を表示"}]},"mark":{"type":"text","fontSize":19,"align":"left","baseline":"middle","color":"#262626"},"encoding":{"text":{"field":"t"}}},
{"data":{"values":[{"d":"2015-04-03T12:00:00Z","d2":"2015-06-25T00:00:00Z","v":-141,"v2":-141}]},"mark":{"type":"rule","color":"#404040","strokeWidth":1},"encoding":{"x2":{"field":"d2"},"y2":{"field":"v2"}}},
{"data":{"values":[{"d":"2015-11-28T19:00:00Z","v":1460,"t":"ﾌｪｰｼﾝｸﾞ 復旧工事"},{"d":"2015-11-28T19:00:00Z","v":1296,"t":"実施"}]},"mark":{"type":"text","fontSize":22,"fontWeight":"bold","align":"left","baseline":"middle","color":"black"},"encoding":{"text":{"field":"t"}}}
]
},
{
"encoding":{
"x":{"field":"d","type":"temporal","scale":{"type":"utc","domain":[{"year":2015,"month":4,"date":1,"utc":true},{"year":2016,"month":1,"date":1,"utc":true}],"nice":false},"axis":{"orient":"bottom","offset":-383,"values":[{"year":2015,"month":4,"date":1,"utc":true},{"year":2015,"month":5,"date":1,"utc":true},{"year":2015,"month":6,"date":1,"utc":true},{"year":2015,"month":7,"date":1,"utc":true},{"year":2015,"month":8,"date":1,"utc":true},{"year":2015,"month":10,"date":1,"utc":true},{"year":2015,"month":11,"date":1,"utc":true},{"year":2015,"month":12,"date":1,"utc":true}],"format":"%Y/%-m/%-d","labelAngle":90,"labelAlign":"left","labelBaseline":"middle","labelFontSize":19,"labelColor":"black","labelPadding":8,"ticks":true,"tickSize":6,"tickColor":"#a6a6a6","domain":false,"grid":false,"title":null,"labelOverlap":false,"labelFlush":false}},
"y":{"field":"v","type":"quantitative","scale":{"domain":[0,6],"range":[456,244],"nice":false},"axis":{"orient":"right","values":[0,1,2,3,4,5,6],"format":".1f","grid":false,"domain":false,"ticks":false,"labelPadding":24,"labelFontSize":18,"labelColor":"black","title":null}}},
"layer":[
{"data":{"values":[{"d":"2015-09-04","v":5},{"d":"2015-10-02","v":4.5},{"d":"2015-10-24","v":4},{"d":"2015-11-19","v":3.9},{"d":"2015-12-04T12:00:00Z","v":3.5},{"d":"2015-12-11","v":3.5}]},"mark":{"type":"line","color":"black","strokeWidth":3,"interpolate":"step-after"},"encoding":{}},
{"data":{"values":[{"d":"2015-12-04T12:00:00Z","v":3.9},{"d":"2015-12-11","v":3.9}]},"mark":{"type":"line","color":"black","strokeWidth":2.5,"strokeDash":[7,4]},"encoding":{}},
{"data":{"values":[{"d":"2015-09-02","v":4.92,"t":"サブドレン稼働水位→"}]},"mark":{"type":"text","fontSize":18,"fontWeight":"bold","align":"right","baseline":"middle","color":"black"},"encoding":{"text":{"field":"t"}}},
{"data":{"values":[{"d":"2015-12-12T14:00:00Z","v":4.05,"t":"山側"},{"d":"2015-12-12T14:00:00Z","v":3.45,"t":"海側"}]},"mark":{"type":"text","fontSize":15,"align":"left","baseline":"middle","color":"black"},"encoding":{"text":{"field":"t"}}}
]
},
{
"encoding":{
"x":{"field":"d","type":"temporal","scale":{"type":"utc","domain":[{"year":2015,"month":4,"date":1,"utc":true},{"year":2016,"month":1,"date":1,"utc":true}],"nice":false},"axis":null},
"y":{"field":"v","type":"quantitative","scale":{"domain":[0,800],"range":[694,516],"nice":false},"axis":{"orient":"left","values":[0,200,400,600,800],"grid":true,"gridColor":"#d9d9d9","zindex":1,"domain":false,"ticks":false,"labelPadding":19,"labelFontSize":18,"labelColor":"black","title":"くみ上げ量（m³/日）","titleFontSize":18,"titleFontWeight":"bold","titleColor":"black","titleX":-66,"titleY":608,"titleBaseline":"middle","titleAngle":-90}}},
"layer":[
{"data":{"values":[{"d":"2015-05-01","v":0,"v2":800},{"d":"2015-06-01","v":0,"v2":800},{"d":"2015-07-01","v":0,"v2":800},{"d":"2015-08-01","v":0,"v2":800},{"d":"2015-09-01","v":0,"v2":800},{"d":"2015-10-01","v":0,"v2":800},{"d":"2015-11-01","v":0,"v2":800},{"d":"2015-12-01","v":0,"v2":800}]},"mark":{"type":"rule","color":"#d9d9d9","strokeWidth":1},"encoding":{"y2":{"field":"v2"}}},
{"data":{"name":"pump"},"transform":[{"fold":["subdrain","treated"],"as":["key","v"]},{"filter":"datum.v > 0"}],"mark":{"type":"bar","width":{"band":0.8}},"encoding":{"x":{"field":"d","timeUnit":"utcyearmonthdate","type":"temporal","scale":{"type":"utc","domain":[{"year":2015,"month":4,"date":1,"utc":true},{"year":2016,"month":1,"date":1,"utc":true}],"nice":false},"axis":null},"color":{"field":"key","type":"nominal","scale":{"domain":["subdrain","treated"],"range":["#0000ff","#00b050"]},"legend":{"orient":"none","legendX":-2,"legendY":503,"title":null,"direction":"vertical","symbolType":"square","symbolSize":170,"symbolStrokeWidth":0,"labelFontSize":19,"labelColor":"#0000ff","labelLimit":600,"padding":8,"rowPadding":17,"strokeColor":"black","fillColor":"white","zindex":2,"labelExpr":"datum.label == 'subdrain' ? 'サブドレンくみ上げ量' : '地下水ドレンくみ上げ量（浄化処理・排水分）'"}},"order":{"field":"key","sort":"ascending"}}},
{"data":{"values":[{"d":"2015-04-01","d2":"2016-01-01","v":0,"v2":800}]},"mark":{"type":"rect","fill":"white","fillOpacity":0,"stroke":"#a6a6a6","strokeWidth":2},"encoding":{"x2":{"field":"d2"},"y2":{"field":"v2"}}},
{"data":{"values":[{"d":"2015-08-13T19:00:00Z","v":822,"t":"サブドレン・地下水ドレンくみ上げ量"}]},"mark":{"type":"text","fontSize":24,"fontWeight":"bold","align":"center","baseline":"middle","color":"#0000ff"},"encoding":{"text":{"field":"t"}}},
{"data":{"values":[{"d":"2015-07-03T10:00:00Z","d2":"2015-09-24T00:00:00Z","v":768,"v2":768}]},"mark":{"type":"rule","color":"#0000ff","strokeWidth":2},"encoding":{"x2":{"field":"d2"},"y2":{"field":"v2"}}},
{"data":{"values":[{"d":"2015-08-13T19:00:00Z","v":665,"t":"（⇒浄化処理・排水）"}]},"mark":{"type":"text","fontSize":22,"align":"center","baseline":"middle","color":"#0000ff"},"encoding":{"text":{"field":"t"}}},
{"data":{"values":[{"d":"2015-10-17T00:00:00Z","d2":"2015-12-03T14:00:00Z","v":-4.5,"v2":2831}]},"mark":{"type":"rect","fill":"white","fillOpacity":0,"stroke":"#8c8c8c","strokeWidth":4,"cornerRadius":16},"encoding":{"x2":{"field":"d2"},"y2":{"field":"v2"}}},
{"data":{"values":[{"d":"2015-09-01T10:00:00Z","d2":"2015-09-01T10:00:00Z","v":1852,"v2":-36},{"d":"2015-09-01T10:00:00Z","d2":"2015-09-05T12:00:00Z","v":-36,"v2":-36},{"d":"2015-09-16T17:00:00Z","d2":"2015-09-16T17:00:00Z","v":1892,"v2":-409},{"d":"2015-09-16T17:00:00Z","d2":"2015-09-20T12:00:00Z","v":-409,"v2":-409},{"d":"2015-11-05T19:00:00Z","d2":"2015-11-05T19:00:00Z","v":1559,"v2":-566},{"d":"2015-11-05T19:00:00Z","d2":"2015-11-10T00:00:00Z","v":-566,"v2":-566}]},"mark":{"type":"rule","color":"black","strokeWidth":2},"encoding":{"x2":{"field":"d2"},"y2":{"field":"v2"}}},
{"data":{"values":[{"d":"2015-09-06T00:00:00Z","v":-36},{"d":"2015-09-21T00:00:00Z","v":-409},{"d":"2015-11-10T12:00:00Z","v":-566}]},"mark":{"type":"point","shape":"triangle-right","size":160,"filled":true,"color":"black","opacity":1}},
{"data":{"values":[{"d":"2015-08-05T05:00:00Z","v":216,"t":"サブドレン"},{"d":"2015-08-05T05:00:00Z","v":94,"t":"昼間くみ上げ"},{"d":"2015-08-05T05:00:00Z","v":-22,"t":"開始（9/3）"},{"d":"2015-08-19T22:00:00Z","v":-148,"t":"サブドレン"},{"d":"2015-08-19T22:00:00Z","v":-270,"t":"24Hくみ上げ"},{"d":"2015-08-19T22:00:00Z","v":-386,"t":"開始（9/17）"},{"d":"2015-11-08T07:00:00Z","v":-207,"t":"地下水ドレン"},{"d":"2015-11-08T07:00:00Z","v":-324,"t":"24Hくみ上げ"},{"d":"2015-11-08T07:00:00Z","v":-440,"t":"開始（11/5）"}]},"mark":{"type":"text","fontSize":19,"fontWeight":"bold","align":"left","baseline":"middle","color":"black"},"encoding":{"text":{"field":"t"}}}
]
},
{
"encoding":{
"x":{"field":"d","type":"temporal","scale":{"type":"utc","domain":[{"year":2015,"month":4,"date":1,"utc":true},{"year":2015,"month":12,"date":30,"hours":2,"utc":true}],"nice":false},"axis":{"orient":"bottom","offset":-44,"values":[{"year":2015,"month":4,"date":1,"utc":true},{"year":2015,"month":5,"date":1,"utc":true},{"year":2015,"month":5,"date":31,"utc":true},{"year":2015,"month":6,"date":30,"utc":true},{"year":2015,"month":7,"date":30,"utc":true},{"year":2015,"month":8,"date":29,"utc":true},{"year":2015,"month":9,"date":28,"utc":true},{"year":2015,"month":10,"date":28,"utc":true},{"year":2015,"month":11,"date":27,"utc":true},{"year":2015,"month":12,"date":27,"utc":true}],"format":"%-m/%-d","labelFontSize":16,"labelColor":"black","labelPadding":6,"ticks":true,"tickSize":5,"tickColor":"black","domain":true,"domainColor":"black","domainWidth":1.5,"grid":false,"title":null,"labelOverlap":false}},
"y":{"field":"v","type":"quantitative","scale":{"domain":[0,700],"range":[1033,840],"nice":false},"axis":{"orient":"left","offset":2,"values":[0,100,200,300,400,500,600,700],"grid":false,"domain":true,"domainColor":"black","domainWidth":1.5,"ticks":true,"tickColor":"black","tickSize":5,"labelPadding":13,"labelFontSize":17,"labelColor":"black","title":"（Bq/L）","titleFontSize":14,"titleFontWeight":"normal","titleColor":"#595959","titleX":-70,"titleY":850,"titleBaseline":"middle","titleAngle":-90}}},
"layer":[
{"data":{"values":[{"d":"2015-04-01","d2":"2015-12-30T02:00:00Z","v":0,"v2":700}]},"mark":{"type":"rect","fill":"#d9d9d9","stroke":"#bfbfbf","strokeWidth":1},"encoding":{"x2":{"field":"d2"},"y2":{"field":"v2"}}},
{"data":{"values":[{"d":"2015-04-01","d2":"2015-12-30T02:00:00Z","v":100,"v2":100},{"d":"2015-04-01","d2":"2015-12-30T02:00:00Z","v":200,"v2":200},{"d":"2015-04-01","d2":"2015-12-30T02:00:00Z","v":300,"v2":300},{"d":"2015-04-01","d2":"2015-12-30T02:00:00Z","v":400,"v2":400},{"d":"2015-04-01","d2":"2015-12-30T02:00:00Z","v":500,"v2":500},{"d":"2015-04-01","d2":"2015-12-30T02:00:00Z","v":600,"v2":600}]},"mark":{"type":"rule","color":"black","strokeWidth":1},"encoding":{"x2":{"field":"d2"},"y2":{"field":"v2"}}},
{"data":{"values":[{"d":"2015-06-22T14:00:00Z","d2":"2015-11-20T00:00:00Z","v":682,"v2":791}]},"mark":{"type":"rect","fill":"white"},"encoding":{"x2":{"field":"d2"},"y2":{"field":"v2"}}},
{"data":{"values":[{"d":"2015-06-24T17:00:00Z","v":740,"t":"海水中の全β・Sr-90濃度【1～4号機取水口開渠内 海側遮水壁南側】"}]},"mark":{"type":"text","fontSize":23,"align":"left","baseline":"middle","color":"black"},"encoding":{"text":{"field":"t"}}},
{"data":{"values":[{"d":"2015-09-08T00:00:00Z","d2":"2015-12-15T12:00:00Z","v":-69,"v2":707}]},"mark":{"type":"rect","fill":"white","fillOpacity":0,"stroke":"black","strokeWidth":2,"strokeDash":[8,5],"cornerRadius":22},"encoding":{"x2":{"field":"d2"},"y2":{"field":"v2"}}},
{"data":{"values":[{"d":"2015-09-16T08:00:00Z","d2":"2015-09-16T08:00:00Z","v":637,"v2":181},{"d":"2015-09-18T17:00:00Z","d2":"2015-09-18T17:00:00Z","v":474,"v2":181},{"d":"2015-10-01T21:00:00Z","d2":"2015-10-01T21:00:00Z","v":366,"v2":127},{"d":"2015-10-22T19:00:00Z","d2":"2015-10-22T19:00:00Z","v":366,"v2":127},{"d":"2015-10-03T00:00:00Z","d2":"2015-10-21T12:00:00Z","v":308,"v2":308},{"d":"2015-12-17T05:00:00Z","d2":"2016-01-09T22:00:00Z","v":319,"v2":40}]},"mark":{"type":"rule","color":"black","strokeWidth":2.5},"encoding":{"x2":{"field":"d2"},"y2":{"field":"v2"}}},
{"data":{"values":[{"d":"2015-10-03T07:00:00Z","v":308}]},"mark":{"type":"point","shape":"triangle-left","size":150,"filled":true,"color":"black","opacity":1}},
{"data":{"values":[{"d":"2015-10-21T10:00:00Z","v":308}]},"mark":{"type":"point","shape":"triangle-right","size":150,"filled":true,"color":"black","opacity":1}},
{"data":{"name":"betaDL"},"mark":{"type":"point","shape":"diamond","size":110,"filled":true,"fill":"white","stroke":"#0000ff","strokeWidth":1.2,"opacity":1}},
{"data":{"name":"beta"},"mark":{"type":"point","shape":"diamond","size":150,"filled":true,"color":"#0000ff","opacity":1}},
{"data":{"name":"srDL"},"mark":{"type":"point","shape":"circle","size":150,"filled":true,"fill":"white","stroke":"#c00000","strokeWidth":1.5,"opacity":1}},
{"data":{"name":"sr"},"mark":{"type":"point","shape":"circle","size":180,"filled":true,"color":"#800000","opacity":1}},
{"data":{"values":[{"d":"2015-09-15T02:00:00Z","v":637,"t":"▼海側遮水壁鋼管矢板"},{"d":"2015-09-18T19:00:00Z","v":556,"t":"一次打設完了（9/19）"},{"d":"2015-09-17T02:00:00Z","v":474,"t":"▼二次打設完了（9/22）"}]},"mark":{"type":"text","fontSize":16,"align":"left","baseline":"middle","color":"#404040"},"encoding":{"text":{"field":"t"}}},
{"data":{"values":[{"d":"2015-10-12T07:00:00Z","v":359,"t":"継手処理"}]},"mark":{"type":"text","fontSize":17,"align":"center","baseline":"middle","color":"#404040"},"encoding":{"text":{"field":"t"}}},
{"data":{"values":[{"d":"2015-09-19T10:00:00Z","v":228,"t":"170"},{"d":"2015-09-23T05:00:00Z","v":-33,"t":"54"},{"d":"2015-09-30T05:00:00Z","v":83,"t":"11"},{"d":"2015-10-08T12:00:00Z","v":-51,"t":"4.2"},{"d":"2015-10-17T10:00:00Z","v":145,"t":"89"},{"d":"2015-10-21T14:00:00Z","v":-54,"t":"1.9"},{"d":"2015-10-29T02:00:00Z","v":54,"t":"0.30"},{"d":"2015-11-05T12:00:00Z","v":58,"t":"0.30"},{"d":"2015-11-12T19:00:00Z","v":72,"t":"0.95"},{"d":"2015-11-26T22:00:00Z","v":72,"t":"1.3"}]},"mark":{"type":"text","font":"Liberation Sans","fontSize":17,"align":"center","baseline":"middle","color":"#262626"},"encoding":{"text":{"field":"t"}}},
{"data":{"values":[{"d":"2015-11-18T10:00:00Z","v":-62,"t":"<0.23"}]},"mark":{"type":"text","font":"Liberation Sans","fontSize":16,"fontWeight":"bold","align":"center","baseline":"middle","color":"#b0541a"},"encoding":{"text":{"field":"t"}}},
{"data":{"values":[{"d":"2015-03-30T13:00:00Z","d2":"2015-06-22T05:00:00Z","v":548,"v2":794}]},"mark":{"type":"rect","fill":"white","stroke":"#808080","strokeWidth":1.5},"encoding":{"x2":{"field":"d2"},"y2":{"field":"v2"}}},
{"data":{"values":[{"d":"2015-04-02T16:00:00Z","v":736,"t":"◇"},{"d":"2015-04-02T16:00:00Z","v":617,"t":"◆"}]},"mark":{"type":"text","fontSize":15,"align":"center","baseline":"middle","color":"#0000ff"},"encoding":{"text":{"field":"t"}}},
{"data":{"values":[{"d":"2015-05-14T10:00:00Z","v":736,"t":"○"},{"d":"2015-05-14T10:00:00Z","v":617,"t":"●"}]},"mark":{"type":"text","fontSize":15,"align":"center","baseline":"middle","color":"#800000"},"encoding":{"text":{"field":"t"}}},
{"data":{"values":[{"d":"2015-04-04T07:00:00Z","v":736,"t":"全β（検出限界値）"},{"d":"2015-04-04T07:00:00Z","v":617,"t":"全β"},{"d":"2015-05-15T19:00:00Z","v":736,"t":"Sr-90（検出限界値）"},{"d":"2015-05-15T19:00:00Z","v":617,"t":"Sr-90"}]},"mark":{"type":"text","fontSize":17,"align":"left","baseline":"middle","color":"black"},"encoding":{"text":{"field":"t"}}}
]
}
]
}
